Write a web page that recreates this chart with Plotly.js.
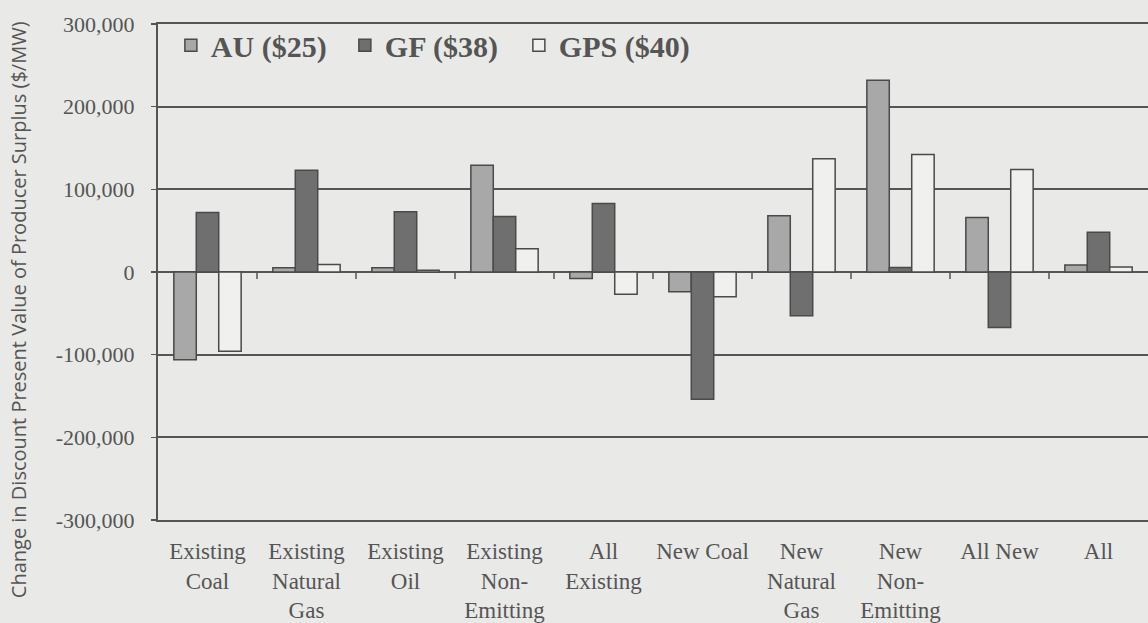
<!DOCTYPE html>
<html>
<head>
<meta charset="utf-8">
<script src="https://cdn.plot.ly/plotly-3.0.1.min.js"></script>
<style>html,body{margin:0;padding:0;background:#e9e9e7;}#chart{width:1148px;height:623px;}</style>
</head>
<body>
<div id="chart"></div>
<script>
const categories = ["Existing<br>Coal", "Existing<br>Natural<br>Gas", "Existing<br>Oil", "Existing<br>Non-<br>Emitting", "All<br>Existing", "New Coal", "New<br>Natural<br>Gas", "New<br>Non-<br>Emitting", "All New", "All"];
const seriesNames = ["AU ($25)", "GF ($38)", "GPS ($40)"];
const auValues  = [-106000, 5000, 5000, 129000, -8000, -24000, 68000, 232000, 66000, 8500];
const gfValues  = [72000, 123000, 73000, 67000, 83000, -154000, -53000, 5500, -67000, 48000];
const gpsValues = [-96000, 9000, 2000, 28000, -27000, -30000, 137000, 142000, 124000, 6000];
const yTickVals = [300000, 200000, 100000, 0, -100000, -200000, -300000];
const yTickText = ["300,000", "200,000", "100,000", "0", "-100,000", "-200,000", "-300,000"];
const yTitle = "Change in Discount Present Value of Producer Surplus ($/MW)";

const fills = ["#a8a8a8", "#6f6f6f", "#f0f0ee"];
const seriesValues = [auValues, gfValues, gpsValues];
const traces = seriesValues.map((vals, i) => ({
  type: "bar",
  name: seriesNames[i],
  x: categories,
  y: vals,
  marker: {color: fills[i], line: {color: "#4a4a4a", width: 1.5}},
  hoverinfo: "skip"
}));

// small tick marks on the zero line at category boundaries
const shapes = categories.slice(1).map((c, i) => ({
  type: "line", xref: "x", yref: "y",
  x0: i + 0.5, x1: i + 0.5,
  ysizemode: "pixel", yanchor: 0, y0: 0, y1: -7,
  line: {color: "#555", width: 1.5}
}));

const layout = {
  width: 1148, height: 623,
  margin: {l: 158, r: 0, t: 24, b: 103},
  paper_bgcolor: "#e9e9e7",
  plot_bgcolor: "#e9e9e7",
  barmode: "group",
  bargap: 0.32,
  bargroupgap: 0,
  font: {family: "Liberation Serif, serif", color: "#555", size: 21},
  showlegend: true,
  legend: {
    orientation: "h", x: 0.013, y: 0.957, xanchor: "left", yanchor: "middle",
    bgcolor: "rgba(0,0,0,0)",
    font: {family: "Liberation Serif, serif", size: 30, color: "#555", weight: "bold"},
    entrywidth: 129, entrywidthmode: "pixels",
    itemwidth: 30, traceorder: "normal"
  },
  xaxis: {
    type: "category",
    showgrid: false,
    showline: true, mirror: true, linecolor: "#555", linewidth: 2,
    ticks: "",
    ticklabelstandoff: 9,
    tickfont: {family: "Liberation Serif, serif", size: 23, color: "#555"},
    automargin: false
  },
  yaxis: {
    range: [-300000, 300000],
    tickvals: yTickVals, ticktext: yTickText,
    showgrid: true, gridcolor: "#555", gridwidth: 2,
    zeroline: true, zerolinecolor: "#555", zerolinewidth: 2,
    showline: true, linecolor: "#555", linewidth: 2,
    ticks: "outside", ticklen: 5, tickcolor: "#555", tickwidth: 1.5,
    ticklabelstandoff: 12,
    tickfont: {family: "Liberation Serif, serif", size: 22, color: "#555"},
    automargin: false
  },
  annotations: [{
    text: yTitle, xref: "paper", yref: "paper",
    x: -0.1414, y: 0.423, xanchor: "center", yanchor: "middle",
    textangle: -90, showarrow: false,
    font: {family: "Open Sans, sans-serif", size: 20, color: "#555"}
  }],
  shapes: shapes
};

Plotly.newPlot("chart", traces, layout, {displayModeBar: false, staticPlot: true});
</script>
</body>
</html>
